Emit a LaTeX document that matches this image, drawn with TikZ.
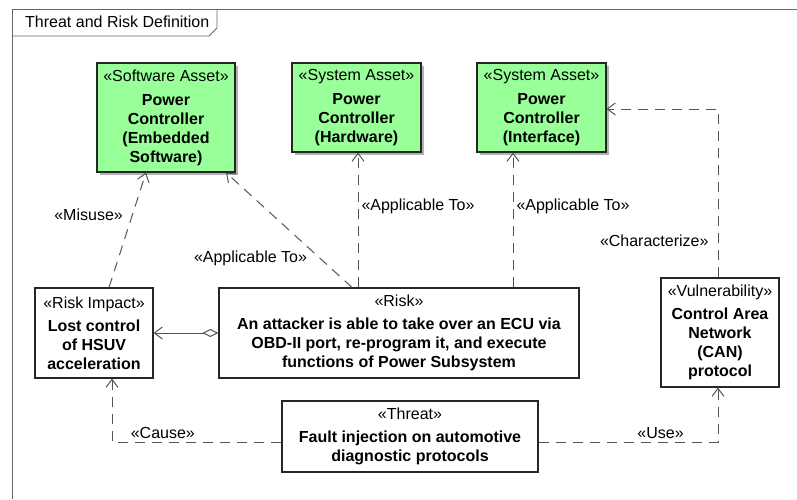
\documentclass[tikz,border=0pt]{standalone}
\usepackage{fontspec}
\setmainfont{Liberation Sans}
\usetikzlibrary{arrows.meta, shadows}
\definecolor{assetgreen}{RGB}{153,255,153}
\definecolor{linegray}{RGB}{85,85,85}
\tikzstyle{asset} = [rectangle, draw=black!85, line width=1.1pt, fill=assetgreen, align=center, inner sep=0pt, drop shadow={shadow xshift=3pt, shadow yshift=-3pt, fill=black!30, opacity=1}]
\tikzstyle{element} = [rectangle, draw=black!85, line width=1.1pt, fill=white, align=center, inner sep=0pt]
\tikzstyle{dep} = [draw=linegray, line width=1pt, dash pattern=on 10pt off 7pt, -{Straight Barb[length=8pt,width=12pt]}]
\tikzstyle{lbl} = [inner sep=1pt]

\begin{document}
\begin{tikzpicture}[x=1pt, y=-1pt, font=\fontsize{16}{19}\selectfont]
\useasboundingbox (0,0) rectangle (797,499);

% Frame
\draw [draw=black!60, line width=0.9pt] (12,499) -- (12,9) -- (797,9);
\draw [draw=black!60, line width=0.9pt] (12,36) -- (209,36) -- (217,28) -- (217,9);
\node (frameTitle) [anchor=west, inner sep=1pt] at (24,22) {Threat and Risk Definition};

% Nodes
\node (swAsset) [asset, minimum width=138pt, minimum height=109pt] at (166,117.5) {«Software Asset»\\[5pt]\textbf{Power}\\\textbf{Controller}\\\textbf{(Embedded}\\\textbf{Software)}};
\node (hwAsset) [asset, minimum width=129pt, minimum height=89pt] at (356.5,107.5) {«System Asset»\\[5pt]\textbf{Power}\\\textbf{Controller}\\\textbf{(Hardware)}};
\node (ifAsset) [asset, minimum width=129pt, minimum height=89pt] at (541.5,107.5) {«System Asset»\\[5pt]\textbf{Power}\\\textbf{Controller}\\\textbf{(Interface)}};
\node (riskImpact) [element, minimum width=118pt, minimum height=90pt] at (94,333) {«Risk Impact»\\[4pt]\textbf{Lost control}\\\textbf{of HSUV}\\\textbf{acceleration}};
\node (risk) [element, minimum width=360pt, minimum height=90pt] at (399,333) {«Risk»\\[4pt]\textbf{An attacker is able to take over an ECU via}\\\textbf{OBD-II port, re-program it, and execute}\\\textbf{functions of Power Subsystem}};
\node (threat) [element, minimum width=256pt, minimum height=71pt] at (410,436.5) {«Threat»\\[4pt]\textbf{Fault injection on automotive}\\\textbf{diagnostic protocols}};
\node (vuln) [element, minimum width=118pt, minimum height=109pt] at (720,332.5) {«Vulnerability»\\[4pt]\textbf{Control Area}\\\textbf{Network}\\\textbf{(CAN)}\\\textbf{protocol}};

% Arrows
\draw [dep] ([xshift=15pt]riskImpact.north) -- node[lbl, pos=0.63, left=8pt] {«Misuse»} ([xshift=-20pt]swAsset.south);
\draw [dep] ([xshift=-47pt]risk.north) -- node[lbl, pos=0.25, left=12pt] {«Applicable To»} ([xshift=60pt]swAsset.south);
\draw [dep] ([xshift=-41pt]risk.north) -- node[lbl, pos=0.6, right=2pt] {«Applicable To»} ([xshift=-41pt]risk.north |- hwAsset.south);
\draw [dep] ([xshift=114pt]risk.north) -- node[lbl, pos=0.6, right=2pt] {«Applicable To»} ([xshift=114pt]risk.north |- ifAsset.south);
\draw [dep] ([xshift=-2pt]vuln.north) |- node[lbl, pos=0.11, left=8pt] {«Characterize»} ([yshift=-1.5pt]ifAsset.east);
\draw [dep] ([yshift=-5.5pt]threat.west) -| node[lbl, pos=0.35, above=2pt] {«Cause»} ([xshift=18pt]riskImpact.south);
\draw [dep] ([yshift=-5.5pt]threat.east) -| node[lbl, pos=0.34, above=2pt] {«Use»} ([xshift=-2pt]vuln.south);
\draw [draw=linegray, line width=1pt, {Diamond[open, length=16pt, width=8pt]}-{Straight Barb[length=8pt,width=12pt]}] (risk.west) -- (riskImpact.east);

\end{tikzpicture}
\end{document}
